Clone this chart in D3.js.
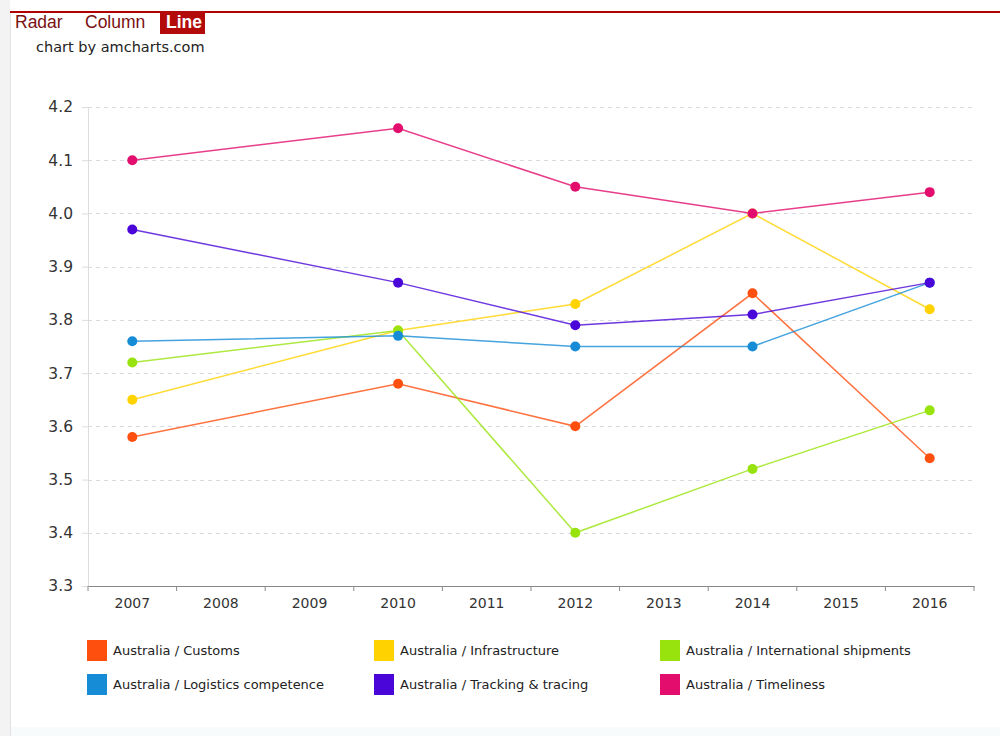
<!DOCTYPE html>
<html>
<head>
<meta charset="utf-8">
<script src="https://cdn.jsdelivr.net/npm/d3@7"></script>
<style>
  html, body { margin: 0; padding: 0; background: #fff; }
  svg { display: block; }
</style>
</head>
<body>
<svg id="chart" width="1000" height="736"></svg>
<script>
// Australia LPI sub-scores by survey year
const years = ["2007", "2008", "2009", "2010", "2011", "2012", "2013", "2014", "2015", "2016"];
const surveyYears = ["2007", "2010", "2012", "2014", "2016"];
const seriesNames = [
  "Australia / Customs",
  "Australia / Infrastructure",
  "Australia / International shipments",
  "Australia / Logistics competence",
  "Australia / Tracking & tracing",
  "Australia / Timeliness"
];
const customs        = [3.58, 3.68, 3.60, 3.85, 3.54];
const infrastructure = [3.65, 3.78, 3.83, 4.00, 3.82];
const shipments      = [3.72, 3.78, 3.40, 3.52, 3.63];
const competence     = [3.76, 3.77, 3.75, 3.75, 3.87];
const tracking       = [3.97, 3.87, 3.79, 3.81, 3.87];
const timeliness     = [4.10, 4.16, 4.05, 4.00, 4.04];
const yTicks = [3.3, 3.4, 3.5, 3.6, 3.7, 3.8, 3.9, 4.0, 4.1, 4.2];
const tabs = ["Radar", "Column", "Line"];

const seriesValues = [customs, infrastructure, shipments, competence, tracking, timeliness];
const colors = ["#ff4f0f", "#ffd200", "#98e30e", "#168cd6", "#4a06d8", "#e20d6d"];

const svg = d3.select("#chart");
const font = "'DejaVu Sans', Verdana, sans-serif";

// page frame: grey margin on the left, thin bottom band
svg.append("rect").attr("x", 0).attr("y", 0).attr("width", 10).attr("height", 736).attr("fill", "#f3f3f3");
svg.append("line").attr("x1", 10.5).attr("x2", 10.5).attr("y1", 12).attr("y2", 736).attr("stroke", "#e2e2e2");
svg.append("rect").attr("x", 11).attr("y", 727).attr("width", 989).attr("height", 9).attr("fill", "#f8fbfc");

// tab bar
svg.append("line").attr("x1", 10).attr("x2", 1000).attr("y1", 12).attr("y2", 12)
  .attr("stroke", "#b30000").attr("stroke-width", 2);
const tabX = [15, 85, 166];
svg.append("rect").attr("x", 160).attr("y", 11).attr("width", 45).attr("height", 23).attr("fill", "#b30a0a");
tabs.forEach((t, i) => {
  svg.append("text").attr("x", tabX[i]).attr("y", 28)
    .attr("font-family", "'Liberation Sans', Arial, sans-serif")
    .attr("font-size", 17.5)
    .attr("font-weight", i === 2 ? "bold" : "normal")
    .attr("fill", i === 2 ? "#ffffff" : "#7a1010")
    .text(t);
});
svg.append("text").attr("x", 36).attr("y", 52)
  .attr("font-family", "'DejaVu Sans', sans-serif")
  .attr("font-size", 14.5).attr("fill", "#222")
  .text("chart by amcharts.com");

// plot area
const plotL = 88, plotR = 974, plotT = 107, plotB = 586;
const x = d3.scaleBand().domain(years).range([plotL, plotR]).paddingInner(0).paddingOuter(0);
const y = d3.scaleLinear().domain([3.3, 4.2]).range([plotB, plotT]);

// horizontal dashed grid
svg.append("g").selectAll("line").data(yTicks.filter(t => t > 3.3)).join("line")
  .attr("x1", plotL).attr("x2", plotR)
  .attr("y1", d => Math.round(y(d)) + 0.5).attr("y2", d => Math.round(y(d)) + 0.5)
  .attr("stroke", "#d9d9e2").attr("stroke-dasharray", "4,4");

// y axis
const yAxis = svg.append("g").attr("transform", `translate(${plotL},0)`)
  .call(d3.axisLeft(y).tickValues(yTicks).tickFormat(d3.format(".1f")).tickSize(6).tickPadding(9));
yAxis.select(".domain").attr("stroke", "#dddddd");
yAxis.selectAll(".tick line").attr("stroke", "#dddddd");
yAxis.selectAll("text").attr("font-family", font).attr("font-size", 15.5).attr("fill", "#333");

// x axis with ticks on band edges
const xAxis = svg.append("g").attr("transform", `translate(0,${plotB})`)
  .call(d3.axisBottom(x).tickSize(0).tickPadding(12));
xAxis.select(".domain").attr("stroke", "#888").attr("stroke-width", 1.2);
xAxis.selectAll("text").attr("font-family", font).attr("font-size", 14).attr("fill", "#333");
const edges = years.map(d => x(d)).concat([x(years[years.length - 1]) + x.bandwidth()]);
xAxis.selectAll(".edge").data(edges).join("line").attr("class", "edge")
  .attr("x1", d => d).attr("x2", d => d).attr("y1", 0).attr("y2", 5)
  .attr("stroke", "#888");

const cx = yr => x(yr) + x.bandwidth() / 2;

// series lines and bullets
const line = d3.line().x(d => cx(d.year)).y(d => y(d.value));
seriesValues.forEach((vals, i) => {
  const pts = surveyYears.map((yr, j) => ({ year: yr, value: vals[j] }));
  svg.append("path").datum(pts)
    .attr("d", line).attr("fill", "none")
    .attr("stroke", colors[i]).attr("stroke-width", 1.5).attr("stroke-opacity", 0.8);
});
seriesValues.forEach((vals, i) => {
  svg.append("g").selectAll("circle")
    .data(surveyYears.map((yr, j) => ({ year: yr, value: vals[j] })))
    .join("circle")
    .attr("cx", d => cx(d.year)).attr("cy", d => y(d.value)).attr("r", 5)
    .attr("fill", colors[i]);
});

// legend
const legX = [87, 374, 660], legY = [640, 674];
seriesNames.forEach((name, i) => {
  const g = svg.append("g").attr("transform", `translate(${legX[i % 3]},${legY[Math.floor(i / 3)]})`);
  g.append("rect").attr("width", 20).attr("height", 21).attr("fill", colors[i]);
  g.append("text").attr("x", 26).attr("y", 15)
    .attr("font-family", font).attr("font-size", 13).attr("fill", "#222")
    .text(name);
});
</script>
</body>
</html>
